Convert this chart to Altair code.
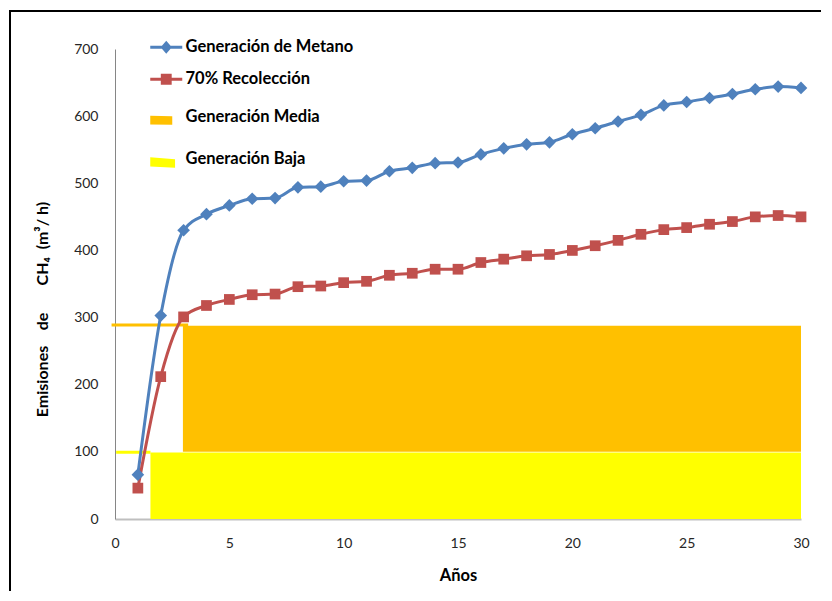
import altair as alt
import pandas as pd

# ---------------- data ----------------
years = list(range(1, 31))
metano = [66, 303, 430, 454, 467, 477, 478, 494, 495, 503, 504, 518, 523, 530, 531,
          543, 552, 558, 561, 573, 582, 592, 602, 616, 621, 627, 633, 640, 644, 642]
recoleccion = [46, 212, 301, 318, 327, 334, 335, 346, 347, 352, 354, 363, 366, 372, 372,
               382, 387, 392, 394, 400, 407, 415, 424, 431, 434, 439, 443, 450, 452, 450]

line_series = ["Generación de Metano", "70% Recolección"]
line_colors = ["#4F81BD", "#C0504D"]
line_shapes = ["diamond", "square"]
line_sizes = [160, 115]

band_series = ["Generación Media", "Generación Baja"]
band_colors = ["#FFC000", "#FFFF00"]
band_x0 = [2.97, 1.55]
band_x1 = [30.0, 30.0]
band_y0 = [100, 0]
band_y1 = [288, 99]
# short horizontal strokes at the left of each band
stroke_x0 = [-0.15, 0.05]
stroke_x1 = [3.2, 1.55]
stroke_y = [289, 99.5]

x_ticks = [0, 5, 10, 15, 20, 25, 30]
y_ticks = [0, 100, 200, 300, 400, 500, 600, 700]

# ---------------- tables ----------------
rows = []
for s, c, sh, sz, vals in zip(line_series, line_colors, line_shapes, line_sizes, [metano, recoleccion]):
    for yr, v in zip(years, vals):
        rows.append({"serie": s, "color": c, "shape": sh, "size": sz, "year": yr, "value": v})
df_lines = pd.DataFrame(rows)

df_bands = pd.DataFrame({"banda": band_series, "color": band_colors,
                         "x0": band_x0, "x1": band_x1, "y0": band_y0, "y1": band_y1})
df_strokes = pd.DataFrame({"banda": band_series, "color": band_colors,
                           "x0": stroke_x0, "x1": stroke_x1, "y": stroke_y})

FONT = "Lato"
xscale = alt.Scale(domain=[0, 30], nice=False)
yscale = alt.Scale(domain=[0, 700], nice=False)

xaxis = alt.Axis(values=x_ticks, title="Años", grid=False, ticks=False, tickSize=0,
                 domainColor="#BFBFBF", domainWidth=2, labelFont=FONT, labelFontSize=14,
                 labelColor="#262626", labelPadding=17, titleFont=FONT, titleFontSize=16.5,
                 titleFontWeight="bold", titleColor="#000000", titlePadding=17, labelFlush=False)
ytitle = ("Emisiones\u00a0\u00a0\u00a0\u00a0de\u00a0\u00a0\u00a0\u00a0\u00a0\u00a0\u00a0"
          "CH\u2084\u00a0\u00a0(m\u00b3/\u00a0h)")
yaxis = alt.Axis(values=y_ticks, title=ytitle, grid=False, ticks=False, tickSize=0,
                 domainColor="#868686", domainWidth=1, labelFont=FONT, labelFontSize=14,
                 labelColor="#262626", labelPadding=17, titleFont=FONT, titleFontSize=16,
                 titleFontWeight="bold", titleColor="#000000", titleX=-73, titleY=260,
                 titleBaseline="middle", titleAngle=-90)

bands = alt.Chart(df_bands).mark_rect().encode(
    x=alt.X("x0:Q", scale=xscale, axis=xaxis),
    x2="x1:Q",
    y=alt.Y("y0:Q", scale=yscale, axis=yaxis),
    y2="y1:Q",
    color=alt.Color("color:N", scale=None),
)

strokes = alt.Chart(df_strokes).mark_rule(strokeWidth=3).encode(
    x=alt.X("x0:Q", scale=xscale),
    x2="x1:Q",
    y=alt.Y("y:Q", scale=yscale),
    color=alt.Color("color:N", scale=None),
)

lines = alt.Chart(df_lines).mark_line(strokeWidth=3, interpolate="monotone").encode(
    x=alt.X("year:Q", scale=xscale),
    y=alt.Y("value:Q", scale=yscale),
    color=alt.Color("color:N", scale=None),
    detail="serie:N",
)

points = alt.Chart(df_lines).mark_point(filled=True, opacity=1).encode(
    x=alt.X("year:Q", scale=xscale),
    y=alt.Y("value:Q", scale=yscale),
    color=alt.Color("color:N", scale=None),
    shape=alt.Shape("shape:N", scale=None),
    size=alt.Size("size:Q", scale=None),
)

# ---------------- legends ----------------
line_paths = [
    "M-2,-0.19 H2 V0.19 H-2 Z M0,-0.8 L0.7,0 L0,0.8 L-0.7,0 Z",
    "M-2,-0.19 H2 V0.19 H-2 Z M-0.68,-0.68 H0.68 V0.68 H-0.68 Z",
]
band_paths = [
    "M-2,-0.2 L0.75,-0.12 L0.75,0.95 L-2,0.9 Z",
    "M-2,-0.25 L1.1,0.0 L1.1,1.05 L-2,0.9 Z",
]

def make_legend(x, y, row_pad):
    return alt.Legend(title=None, orient="none", legendX=x, legendY=y, direction="vertical",
                      labelFont=FONT, labelFontSize=16.5, labelFontWeight="bold",
                      labelColor="#000000", symbolSize=256, symbolStrokeWidth=0,
                      rowPadding=row_pad, labelOffset=11, padding=0, labelLimit=400,
                      symbolOpacity=1)

leg1 = make_legend(43, -10, 15)
leg2 = make_legend(43, 60, 25)

df_leg1 = pd.DataFrame({"serie": line_series, "year": [0, 0], "value": [0, 0]})
df_leg2 = pd.DataFrame({"banda": band_series, "year": [0, 0], "value": [0, 0]})

legend1 = alt.Chart(df_leg1).mark_point(filled=True).encode(
    x=alt.X("year:Q", scale=xscale),
    y=alt.Y("value:Q", scale=yscale),
    color=alt.Color("serie:N", scale=alt.Scale(domain=line_series, range=line_colors), legend=leg1),
    shape=alt.Shape("serie:N", scale=alt.Scale(domain=line_series, range=line_paths), legend=leg1),
).transform_filter("false")

legend2 = alt.Chart(df_leg2).mark_point(filled=True).encode(
    x=alt.X("year:Q", scale=xscale),
    y=alt.Y("value:Q", scale=yscale),
    color=alt.Color("banda:N", scale=alt.Scale(domain=band_series, range=band_colors), legend=leg2),
    shape=alt.Shape("banda:N", scale=alt.Scale(domain=band_series, range=band_paths), legend=leg2),
).transform_filter("false")

frame = alt.Chart(pd.DataFrame({"a": [0]})).mark_rect(filled=False, stroke="#000000", strokeWidth=2).encode(
    x=alt.value(-105), x2=alt.value(740), y=alt.value(-38), y2=alt.value(580)
)

chart = alt.layer(bands, strokes, lines, points, legend1, legend2, frame).resolve_scale(
    color="independent", shape="independent"
).properties(
    width=686, height=470,
    autosize=alt.AutoSizeParams(type="none"),
    padding={"left": 107, "top": 41, "right": 20, "bottom": 72},
    background="white",
).configure_view(strokeWidth=0)

chart.save("out.html", embed_options={"renderer": "svg", "actions": False})
